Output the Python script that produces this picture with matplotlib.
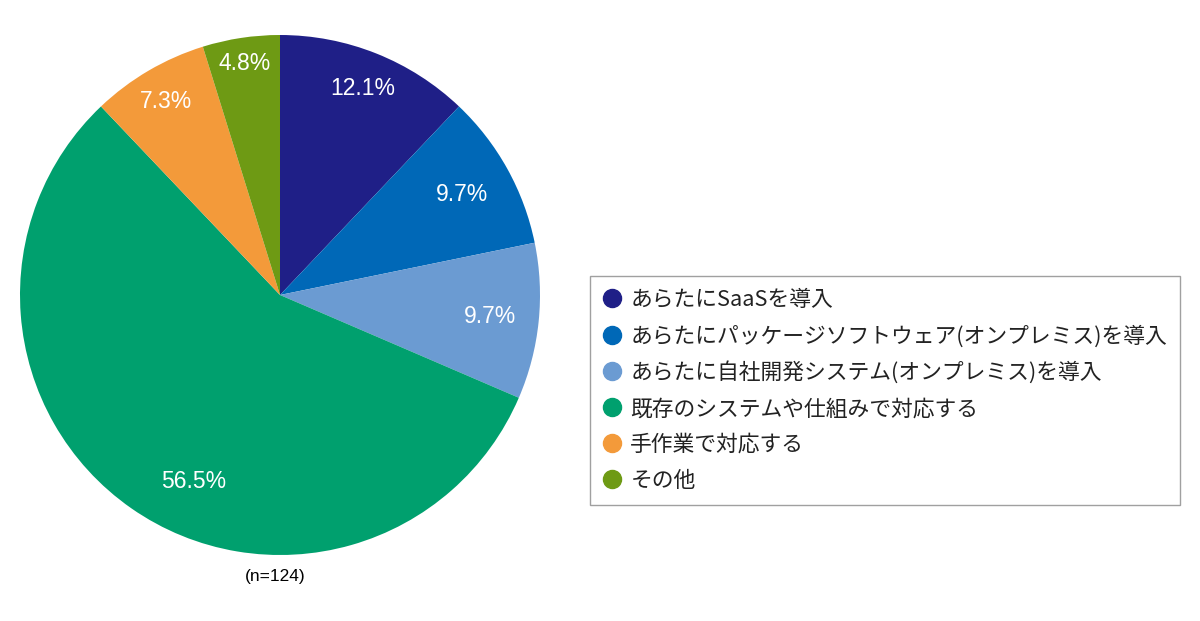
import numpy as np
import matplotlib
matplotlib.use("Agg")
import matplotlib.pyplot as plt
from matplotlib.lines import Line2D

plt.rcParams['font.family'] = ['Noto Sans CJK JP', 'DejaVu Sans']

labels = [
    "あらたにSaaSを導入",
    "あらたにパッケージソフトウェア(オンプレミス)を導入",
    "あらたに自社開発システム(オンプレミス)を導入",
    "既存のシステムや仕組みで対応する",
    "手作業で対応する",
    "その他",
]
values = [12.1, 9.7, 9.7, 56.5, 7.3, 4.8]
colors = ["#1f1f87", "#0068b7", "#6b9bd2", "#00a06e", "#f39a3a", "#6e9a14"]
n_text = "(n=124)"

# label placement tweaks (radius, angle shift in degrees)
label_r = [0.855, 0.80, 0.81, 0.79, 0.865, 0.90]
label_shift = [0, 0, 0, 10, 0, 0]

fig = plt.figure(figsize=(12, 6.21), dpi=100)
ax = fig.add_axes([20 / 1200, (621 - 555) / 621, 520 / 1200, 520 / 621])

wedges, _ = ax.pie(values, colors=colors, startangle=90, counterclock=False,
                   radius=1.0, wedgeprops=dict(linewidth=0))
ax.set_xlim(-1, 1)
ax.set_ylim(-1, 1)
ax.set_aspect("equal")
ax.axis("off")

for w, v, r, s in zip(wedges, values, label_r, label_shift):
    mid = np.deg2rad((w.theta1 + w.theta2) / 2 + s)
    ax.text(r * np.cos(mid), r * np.sin(mid), f"{v}%", color="white",
            fontsize=16.5, ha="center", va="center",
            family=['Liberation Sans', 'DejaVu Sans'])

fig.text(275 / 1200, 1 - 577 / 621, n_text, fontsize=12.5, ha="center",
         va="center", family=['Liberation Sans', 'DejaVu Sans'])

handles = [Line2D([], [], marker="o", linestyle="none", markersize=13,
                  markerfacecolor=c, markeredgecolor=c) for c in colors]
leg = fig.legend(handles, labels, loc="center left",
                 bbox_to_anchor=(590 / 1200, 1 - 390.5 / 621),
                 fontsize=15.7, frameon=True, fancybox=False,
                 handlelength=0.8, handletextpad=0.45, labelspacing=0.64,
                 borderpad=0.6, borderaxespad=0)
leg.get_frame().set_edgecolor("#888888")
leg.get_frame().set_linewidth(1.0)
for t in leg.get_texts():
    t.set_color("#222222")

fig.savefig("out.png", dpi=100)
